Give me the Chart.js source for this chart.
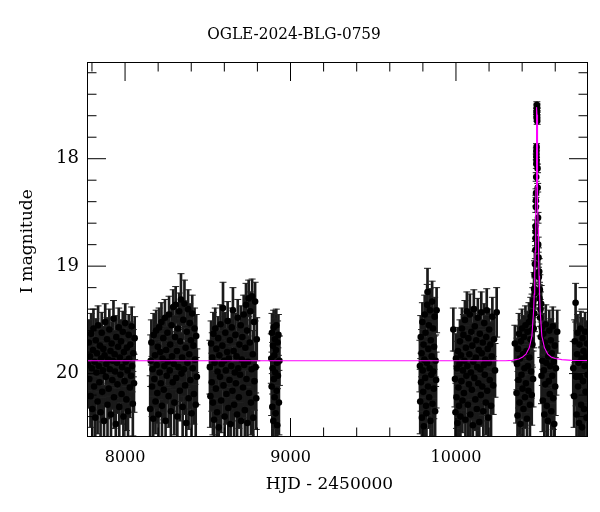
<!DOCTYPE html>
<html><head><meta charset="utf-8">
<script src="https://cdn.jsdelivr.net/npm/chart.js@4.4.1/dist/chart.umd.min.js"></script>
<style>html,body{margin:0;padding:0;background:#fff}canvas{display:block}</style>
</head><body>
<canvas id="c" width="600" height="512"></canvas>
<script>
// ---- observations: [HJD-2450000, I mag, error] ----
const season2017 = [[7777,19.92,.24],[7781,19.71,.21],[7784,20.05,.27],[7788,19.84,.22],[7791,20.21,.29],[7795,19.63,.19],[7799,19.95,.25],[7802,20.33,.31],[7806,19.78,.22],[7809,19.58,.18],[7813,20.12,.27],[7816,19.89,.23],[7820,20.41,.33],[7823,19.69,.20],[7827,19.99,.25],[7830,19.81,.22],[7834,20.26,.30],[7837,19.55,.18],[7841,19.93,.24],[7845,20.08,.26],[7848,19.74,.21],[7852,20.36,.32],[7855,19.86,.23],[7859,19.62,.19],[7862,20.17,.28],[7866,19.97,.25],[7869,19.77,.21],[7873,20.44,.33],[7876,19.83,.22],[7880,19.52,.17],[7884,20.03,.26],[7887,19.91,.24],[7891,19.68,.20],[7894,20.29,.30],[7898,19.87,.23],[7901,20.14,.28],[7905,19.59,.19],[7908,19.96,.25],[7912,19.79,.22],[7915,20.38,.32],[7919,19.72,.20],[7923,20.06,.27],[7926,19.88,.23],[7930,19.49,.17],[7933,20.22,.29],[7937,19.82,.22],[7940,19.98,.25],[7944,20.47,.34],[7947,19.66,.20],[7951,19.90,.24],[7954,20.10,.27],[7958,19.75,.21],[7962,19.57,.18],[7965,20.31,.31],[7969,19.85,.23],[7972,20.01,.26],[7976,19.70,.20],[7979,20.19,.28],[7983,19.94,.24],[7986,19.61,.19],[7990,20.40,.33],[7993,19.80,.22],[7997,20.07,.27],[8001,19.53,.18],[8004,19.89,.23],[8008,20.24,.29],[8011,19.76,.21],[8015,19.97,.25],[8018,20.35,.32],[8022,19.64,.19],[8025,19.86,.23],[8029,20.13,.28],[8032,19.73,.21],[8036,20.02,.26],[8040,19.56,.18],[8043,19.93,.24],[8047,20.28,.30],[8050,19.81,.22],[8054,20.09,.27],[8058,19.67,.20]];
const season2018 = [[8152,20.33,.31],[8155,19.88,.24],[8159,19.71,.21],[8163,20.12,.28],[8166,19.96,.25],[8170,20.42,.33],[8173,19.64,.20],[8177,20.05,.27],[8181,19.83,.23],[8184,20.26,.30],[8188,19.60,.19],[8191,19.92,.24],[8195,20.18,.28],[8198,19.75,.21],[8202,20.38,.32],[8206,19.57,.18],[8209,19.99,.25],[8213,19.80,.22],[8216,20.09,.27],[8220,19.52,.18],[8223,20.30,.31],[8227,19.86,.23],[8231,19.67,.20],[8234,20.15,.28],[8238,19.93,.24],[8241,19.48,.17],[8245,20.44,.33],[8248,19.78,.22],[8252,20.02,.26],[8256,19.62,.19],[8259,19.89,.24],[8263,20.21,.29],[8266,19.45,.17],[8270,19.97,.25],[8273,19.73,.21],[8277,20.35,.32],[8281,19.55,.18],[8284,19.84,.23],[8288,20.08,.27],[8291,19.38,.16],[8295,19.91,.24],[8298,20.27,.30],[8302,19.66,.20],[8306,19.36,.17],[8309,20.04,.26],[8313,19.79,.22],[8316,20.40,.33],[8320,19.58,.18],[8323,19.94,.24],[8327,19.42,.17],[8331,20.16,.28],[8334,19.70,.21],[8338,19.31,.24],[8341,20.00,.26],[8345,19.85,.23],[8348,20.31,.31],[8352,19.50,.18],[8356,19.96,.25],[8359,19.35,.22],[8363,20.11,.27],[8366,19.76,.21],[8370,20.46,.34],[8373,19.61,.19],[8377,19.90,.24],[8381,19.40,.18],[8384,20.23,.29],[8388,19.82,.22],[8391,19.53,.18],[8395,20.06,.27],[8398,19.69,.20],[8402,20.37,.32],[8406,19.44,.17],[8409,19.95,.25],[8413,19.74,.21],[8416,20.19,.28],[8420,19.58,.19],[8423,19.87,.23],[8427,20.29,.30],[8430,19.65,.20],[8434,20.03,.26]];
const season2019 = [[8513,19.94,.25],[8516,20.21,.29],[8520,19.72,.21],[8524,20.08,.27],[8527,19.85,.23],[8531,20.27,.30],[8534,19.63,.20],[8538,20.43,.33],[8541,19.90,.24],[8545,19.58,.19],[8549,20.14,.28],[8552,19.77,.22],[8556,20.36,.32],[8559,19.98,.25],[8563,19.67,.20],[8566,20.50,.35],[8570,19.83,.23],[8574,20.03,.26],[8577,19.54,.18],[8581,20.25,.30],[8584,19.91,.24],[8588,19.74,.21],[8592,19.39,.24],[8595,20.11,.27],[8599,19.88,.24],[8602,20.40,.33],[8606,19.62,.19],[8609,19.97,.25],[8613,20.19,.28],[8617,19.80,.22],[8620,19.51,.18],[8624,20.32,.31],[8627,19.86,.23],[8631,20.06,.27],[8634,19.69,.20],[8638,20.47,.34],[8642,19.93,.24],[8645,19.57,.18],[8649,20.16,.28],[8652,19.41,.21],[8656,19.79,.22],[8659,20.29,.30],[8663,19.99,.25],[8667,19.64,.20],[8670,20.09,.27],[8674,19.84,.23],[8677,20.38,.32],[8681,19.48,.17],[8684,19.95,.25],[8688,20.22,.29],[8691,19.73,.21],[8695,20.01,.26],[8699,19.55,.18],[8702,20.44,.33],[8706,19.87,.23],[8709,19.66,.20],[8713,20.13,.28],[8717,19.45,.18],[8720,19.92,.24],[8724,20.34,.31],[8727,19.76,.21],[8731,19.36,.20],[8734,20.05,.26],[8738,19.60,.19],[8740,20.46,.34],[8743,19.89,.24],[8747,19.30,.17],[8750,20.18,.28],[8754,19.71,.21],[8757,19.42,.18],[8761,20.27,.30],[8765,19.96,.25],[8768,19.28,.16],[8772,19.82,.22],[8775,20.41,.33],[8779,19.52,.18],[8782,20.07,.27],[8786,19.33,.18],[8789,19.94,.24],[8793,20.23,.29],[8796,19.68,.20]];
const season2020 = [[8884,19.86,.23],[8886,20.12,.27],[8888,19.62,.18],[8890,20.31,.31],[8892,19.95,.24],[8894,19.74,.21],[8896,20.44,.33],[8898,19.57,.16],[8900,20.05,.26],[8902,19.83,.22],[8904,20.22,.29],[8906,19.68,.19],[8908,19.99,.25],[8910,20.37,.32],[8912,19.78,.21],[8914,19.55,.15],[8916,20.16,.28],[8918,19.90,.24],[8920,20.48,.34],[8922,19.71,.20],[8924,20.02,.26],[8927,19.64,.19],[8930,20.27,.30],[8933,19.88,.23]];
const season2022 = [[9782,19.93,.24],[9784,20.26,.30],[9787,19.66,.20],[9789,20.08,.27],[9792,19.81,.22],[9794,20.41,.33],[9797,19.52,.18],[9799,19.97,.25],[9802,20.17,.28],[9804,19.73,.21],[9806,20.49,.34],[9809,19.87,.23],[9811,19.45,.18],[9814,20.04,.26],[9816,19.62,.19],[9819,20.30,.31],[9821,20.37,.32],[9824,19.90,.24],[9826,19.36,.19],[9828,19.24,.22],[9831,20.12,.27],[9833,19.77,.22],[9836,19.55,.18],[9838,20.22,.29],[9841,19.95,.25],[9843,19.41,.20],[9846,20.44,.33],[9848,19.69,.20],[9851,20.01,.26],[9853,19.84,.23],[9856,19.33,.19],[9858,20.28,.30],[9861,19.58,.19],[9863,19.98,.25],[9866,20.14,.28],[9868,19.75,.21],[9871,19.47,.18],[9874,20.35,.32],[9877,19.88,.24],[9880,20.06,.26],[9883,19.41,.21]];
const season2023 = [[9984,19.59,.20],[9994,20.05,.26],[9997,20.36,.32],[10000,19.86,.23],[10003,20.22,.29],[10006,19.95,.25],[10009,20.46,.34],[10012,19.79,.22],[10015,20.13,.28],[10018,20.30,.31],[10021,19.91,.24],[10024,19.70,.20],[10027,20.40,.33],[10030,19.83,.22],[10033,20.07,.27],[10036,19.58,.19],[10039,20.25,.30],[10042,19.97,.25],[10045,19.64,.19],[10048,20.18,.28],[10051,19.88,.23],[10054,19.50,.18],[10057,20.43,.33],[10060,19.76,.21],[10063,20.02,.26],[10066,19.42,.18],[10069,19.93,.24],[10072,20.29,.30],[10075,19.67,.20],[10078,20.10,.27],[10081,19.82,.22],[10084,19.45,.19],[10087,20.38,.32],[10090,19.99,.25],[10093,19.61,.19],[10096,20.15,.28],[10099,19.74,.21],[10102,20.48,.34],[10105,19.89,.24],[10108,19.40,.18],[10111,20.04,.26],[10114,19.56,.18],[10117,20.24,.29],[10120,19.85,.23],[10123,19.69,.20],[10126,20.33,.31],[10129,19.94,.24],[10132,19.48,.18],[10135,20.09,.27],[10138,19.78,.22],[10141,20.45,.33],[10144,19.63,.19],[10147,19.96,.25],[10150,20.20,.29],[10153,19.43,.19],[10156,19.81,.22],[10159,20.12,.27],[10162,19.71,.21],[10165,20.35,.32],[10168,19.92,.24],[10171,19.53,.18],[10174,20.01,.26],[10177,19.87,.23],[10180,20.27,.30],[10183,19.66,.20],[10186,19.41,.20],[10189,20.16,.28],[10192,19.77,.21],[10195,20.41,.33],[10198,19.90,.24],[10201,19.59,.19],[10204,20.06,.26],[10208,19.73,.21],[10212,20.30,.31],[10216,19.84,.23],[10220,19.47,.18],[10225,20.11,.27],[10230,19.68,.20],[10236,19.97,.25],[10246,19.43,.23]];
const season2024 = [[10356,19.72,.17],[10366,20.18,.28],[10369,19.91,.24],[10372,20.39,.33],[10375,19.77,.21],[10378,20.06,.26],[10381,19.63,.19],[10384,20.27,.30],[10387,19.86,.23],[10390,20.47,.34],[10393,19.70,.20],[10396,20.01,.26],[10399,19.58,.18],[10402,20.14,.28],[10405,19.82,.22],[10408,20.33,.31],[10411,19.66,.20],[10414,19.95,.25],[10417,20.22,.29],[10420,19.55,.18],[10423,20.09,.27],[10426,19.79,.22],[10429,20.42,.33],[10432,19.61,.19],[10435,19.93,.24],[10438,20.16,.28],[10441,19.52,.18],[10444,19.85,.23],[10447,20.29,.30],[10450,19.68,.20],[10452,19.47,.18],[10454,19.98,.25],[10456,19.60,.19],[10458,20.20,.28],[10460,19.43,.17],[10462,19.73,.21],[10464,19.36,.16],[10466,20.05,.26],[10468,19.32,.16],[10470,19.58,.18],[10472,19.21,.15],[10474,19.44,.17],[10475,19.08,.13],[10477,18.98,.12],[10478,19.25,.14],[10480,18.85,.08],[10481,18.74,.07],[10481,18.63,.06],[10482,18.68,.06],[10483,18.45,.05],[10483,18.39,.05],[10484,18.32,.04],[10485,18.17,.04],[10486,18.05,.04],[10486,17.98,.03],[10486,17.93,.03],[10487,17.89,.03],[10487,18.02,.03],[10488,17.62,.03],[10488,17.58,.03],[10489,17.53,.03],[10489,17.50,.03],[10489,17.56,.03],[10490,17.52,.03],[10490,17.60,.03],[10491,17.65,.03],[10493,18.09,.04],[10494,18.27,.04],[10496,18.55,.05],[10497,18.80,.07],[10499,18.92,.09],[10501,19.10,.12],[10503,19.05,.12],[10505,19.30,.15],[10507,19.22,.14],[10509,19.48,.17],[10511,19.40,.16],[10513,19.66,.19],[10515,19.35,.17],[10517,20.02,.26],[10519,19.57,.18],[10522,19.88,.23],[10525,20.25,.29],[10528,19.63,.19],[10531,19.97,.25],[10534,20.38,.32],[10537,19.71,.20],[10540,20.10,.27],[10543,19.54,.18],[10546,19.90,.24],[10549,20.30,.31],[10552,19.76,.21],[10555,20.44,.33],[10558,19.84,.23],[10561,20.07,.27],[10564,19.60,.19],[10567,20.19,.28],[10570,19.93,.24],[10573,19.69,.20],[10576,20.35,.32],[10579,19.81,.22],[10582,20.02,.26],[10585,19.56,.18],[10588,20.23,.29],[10591,19.89,.24],[10594,20.47,.34],[10597,19.74,.21],[10600,20.12,.27],[10604,19.95,.25],[10612,19.61,.20]];
const season2025 = [[10709,19.95,.25],[10714,20.21,.29],[10718,19.70,.20],[10723,19.34,.18],[10726,20.03,.27],[10729,20.38,.32],[10732,19.82,.22],[10735,19.62,.17],[10738,20.12,.28],[10741,19.90,.24],[10744,20.46,.34],[10747,19.73,.20],[10750,20.03,.26],[10753,19.58,.16],[10756,20.29,.30],[10759,19.86,.23],[10762,20.50,.35],[10765,19.67,.19],[10768,20.07,.27],[10771,19.79,.22],[10774,20.33,.31],[10777,19.93,.24],[10780,19.61,.18],[10783,20.17,.28],[10786,19.84,.23],[10789,20.41,.33],[10792,19.72,.21],[10795,20.01,.26]];

// ---- model light curve ----
const modelHJD = [7700,10300,10340,10380,10403,10423,10443,10459,10469,10473,10476,10479,10481,10483,10484,10485,10486,10487,10488,10489,10490,10491,10492,10493,10494,10495,10497,10499,10502,10505,10509,10519,10535,10555,10575,10600,10640,10700,10900];
const modelMag = [19.88,19.88,19.877,19.865,19.845,19.82,19.76,19.65,19.42,19.26,19.09,18.86,18.66,18.41,18.26,18.10,17.92,17.74,17.59,17.52,17.59,17.74,17.92,18.10,18.26,18.41,18.66,18.86,19.09,19.26,19.42,19.65,19.76,19.82,19.845,19.86,19.87,19.877,19.88];

// ---- axes ----
const xTickValues = [7800,8000,8200,8400,8600,8800,9000,9200,9400,9600,9800,10000,10200,10400,10600];
const xTickLabels = {8000:'8000',9000:'9000',10000:'10000'};
const yTickValues = [17.2,17.4,17.6,17.8,18,18.2,18.4,18.6,18.8,19,19.2,19.4,19.6,19.8,20,20.2,20.4];
const yTickLabels = {18:'18',19:'19',20:'20'};
const titleText = 'OGLE-2024-BLG-0759';
const xTitle = 'HJD - 2450000';
const yTitle = 'I magnitude';

const FONT = "'DejaVu Serif', 'Liberation Serif', serif";
const TFONT = "'DejaVu Serif Condensed', 'DejaVu Serif', serif";
const obs = [].concat(season2017, season2018, season2019, season2020, season2022, season2023, season2024, season2025);
const pts = obs.map(o => ({x:o[0], y:o[1]}));
const bars = obs.map(o => ({x:o[0], y:[o[1]-o[2], o[1]+o[2]]}));
const caps = obs.flatMap(o => [{x:o[0], y:o[1]-o[2]}, {x:o[0], y:o[1]+o[2]}]);
const model = modelHJD.map((t,i) => ({x:t, y:modelMag[i]}));

const frameAndTicks = {
  id:'frameAndTicks',
  beforeDraw(chart){ const c=chart.ctx; c.save(); c.fillStyle='#fff'; c.fillRect(0,0,chart.width,chart.height); c.restore(); },
  afterDraw(chart){
    const {ctx, chartArea:a, scales:{x, y}} = chart;
    ctx.save();
    ctx.strokeStyle = '#000'; ctx.lineWidth = 1;
    ctx.beginPath();
    x.ticks.forEach(t => {
      const px = x.getPixelForValue(t.value);
      const L = xTickLabels[t.value] ? 19 : 9.5;
      ctx.moveTo(px, a.bottom); ctx.lineTo(px, a.bottom - L);
      ctx.moveTo(px, a.top); ctx.lineTo(px, a.top + L);
    });
    y.ticks.forEach(t => {
      const py = y.getPixelForValue(t.value);
      const L = yTickLabels[t.value] ? 19 : 9.5;
      ctx.moveTo(a.left, py); ctx.lineTo(a.left + L, py);
      ctx.moveTo(a.right, py); ctx.lineTo(a.right - L, py);
    });
    ctx.stroke();
    ctx.strokeRect(a.left + 0.5, a.top + 0.5, a.right - a.left - 1, a.bottom - a.top - 1);
    ctx.restore();
  }
};

new Chart(document.getElementById('c'), {
  type: 'scatter',
  data: { datasets: [
    {type:'line', label:'model', data:model, borderColor:'#ff00ff', borderWidth:1.1, pointRadius:0, fill:false, tension:0, order:0},
    {type:'scatter', label:'I', data:pts, pointRadius:3.3, backgroundColor:'#000', borderColor:'#000', pointBorderWidth:0, order:1},
    {type:'scatter', label:'caps', data:caps, pointStyle:'line', pointRadius:3.5, borderColor:'#222', pointBorderWidth:1, order:2},
    {type:'bar', label:'err', data:bars, backgroundColor:'#1a1a1a', borderWidth:0, barThickness:2, grouped:false, order:3}
  ]},
  options: {
    responsive:false, animation:false, devicePixelRatio:1, events:[],
    layout:{padding:{left:0, right:12, top:0, bottom:0}},
    plugins:{
      legend:{display:false}, tooltip:{enabled:false},
      title:{display:true, text:titleText, color:'#000', font:{family:TFONT, size:17, weight:'normal'}, padding:{top:24.8, bottom:16.8}}
    },
    scales:{
      x:{type:'linear', min:7770, max:10798, offset:false,
         grid:{display:false, drawTicks:false}, border:{display:false},
         afterBuildTicks: s => { s.ticks = xTickValues.map(v => ({value:v})); },
         ticks:{autoSkip:false, maxRotation:0, padding:11, color:'#000', font:{family:FONT, size:16},
                callback: v => xTickLabels[v] || ''},
         title:{display:true, text:xTitle + '   ', color:'#000', font:{family:FONT, size:17}, padding:{top:0, bottom:16.8}},
         afterFit: s => { s.height = 75; }},
      y:{type:'linear', reverse:true, min:17.1, max:20.59,
         grid:{display:false, drawTicks:false}, border:{display:false},
         afterBuildTicks: s => { s.ticks = yTickValues.map(v => ({value:v})); },
         ticks:{autoSkip:false, padding:8, color:'#000', font:{family:FONT, size:18},
                callback: v => yTickLabels[Math.round(v*10)/10] || ''},
         title:{display:true, text:'   ' + yTitle, color:'#000', font:{family:FONT, size:17}, padding:{top:17.3, bottom:0}},
         afterFit: s => { s.width = 87; }}
    }
  },
  plugins:[frameAndTicks]
});
</script>
</body></html>
